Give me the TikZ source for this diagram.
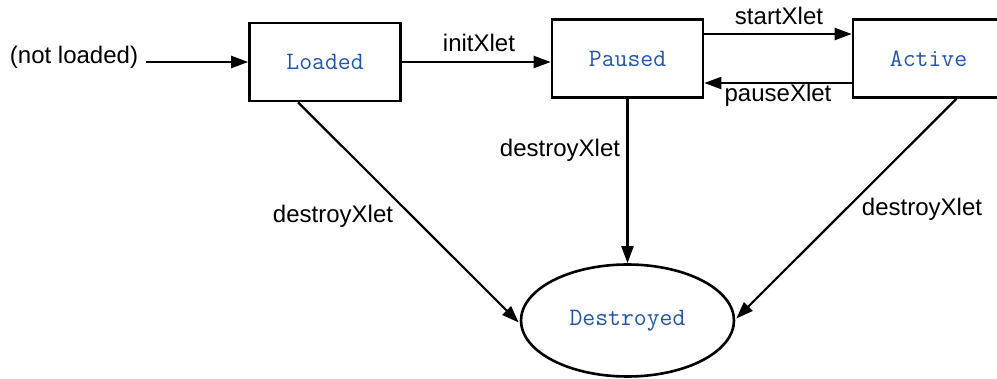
\documentclass[tikz,border=0pt]{standalone}
\usepackage{fontspec}
\setmainfont{Liberation Sans}
\usetikzlibrary{arrows.meta,calc,shapes.geometric}
\definecolor{stateblue}{RGB}{35,85,165}
\tikzset{
  statebox/.style={draw,line width=2.6pt,minimum width=151pt,minimum height=78pt,inner sep=0pt,
    font=\ttfamily\fontsize{25}{28}\selectfont,text=stateblue},
  stateell/.style={draw,ellipse,line width=2.6pt,minimum width=213pt,minimum height=112pt,inner sep=0pt,
    font=\ttfamily\fontsize{25}{28}\selectfont,text=stateblue},
  lbl/.style={font=\fontsize{24}{28}\selectfont,inner sep=0pt},
  conn/.style={line width=2.2pt,-{Triangle[length=17pt,width=12pt]}},
}
\begin{document}
\begin{tikzpicture}[x=1pt,y=-1pt]
\useasboundingbox (0,0) rectangle (997,379);
\node[statebox] (loaded) at (325,62) {Loaded};
\node[statebox] (paused) at (627.5,58.5) {Paused};
\node[statebox] (active) at (928.5,58.5) {Active};
\node[stateell] (destroyed) at (627.5,320.5) {Destroyed};
\node[lbl] (notloaded) at (74,57) {(not loaded)};
\coordinate (nlend) at (146,62);
\draw[conn] (nlend) -- (loaded.west);
\draw[conn] (loaded.east) -- (paused.west |- loaded.east);
\node[lbl] (linit) at (479,43) {initXlet};
\draw[conn] ($(paused.east)+(0,-24.5)$) -- ($(active.west)+(0,-24.5)$);
\node[lbl] (lstart) at (779,16) {startXlet};
\draw[conn] ($(active.west)+(0,24.5)$) -- ($(paused.east)+(0,24.5)$);
\node[lbl] (lpause) at (778,95) {pauseXlet};
\draw[conn] (paused.south) -- (destroyed.north);
\node[lbl] (ldmid) at (560,150) {destroyXlet};
\draw[conn] ($(loaded.south)+(-27,0)$) -- ($(destroyed.west)+(-1,2)$);
\node[lbl] (ldleft) at (333,216) {destroyXlet};
\draw[conn] ($(active.south)+(28,0)$) -- ($(destroyed.east)+(1,-2)$);
\node[lbl] (ldright) at (922,209) {destroyXlet};
\end{tikzpicture}
\end{document}
